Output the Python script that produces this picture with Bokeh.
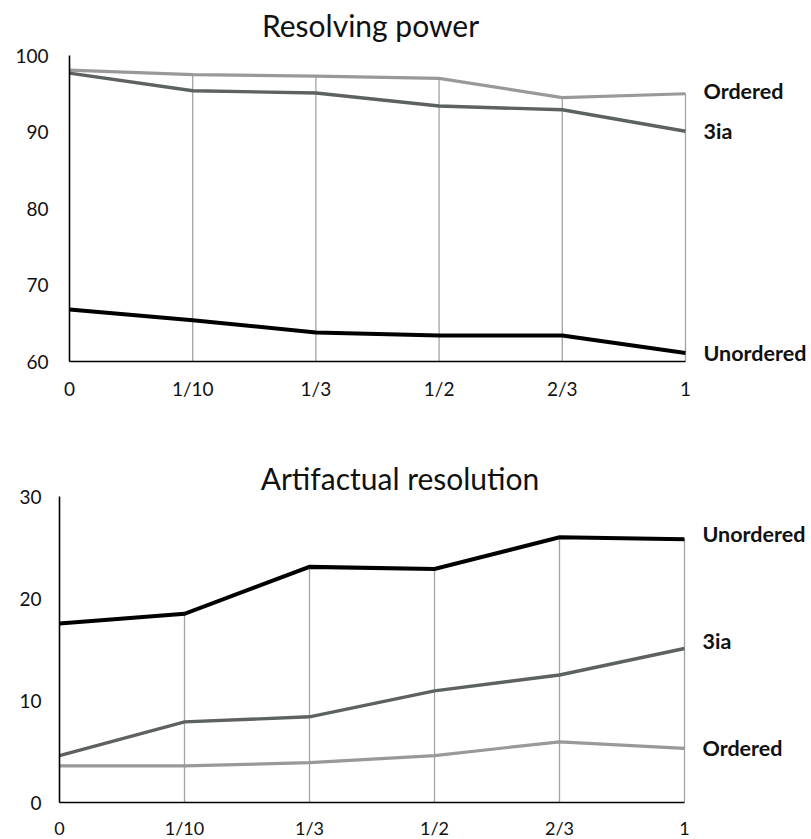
from bokeh.plotting import figure
from bokeh.models import Range1d, FixedTicker
from bokeh.core.properties import value
from bokeh.embed import file_html
from bokeh.resources import INLINE

# ---- data ----
x_labels = ["0", "1/10", "1/3", "1/2", "2/3", "1"]
series_names = ["Ordered", "3ia", "Unordered"]

rp_ordered = [98.1, 97.5, 97.3, 97.0, 94.5, 95.0]
rp_3ia = [97.7, 95.4, 95.1, 93.4, 92.9, 90.1]
rp_unordered = [66.8, 65.4, 63.8, 63.4, 63.4, 61.1]
rp_ticks = [60, 70, 80, 90, 100]

ar_ordered = [3.6, 3.6, 3.9, 4.6, 5.95, 5.3]
ar_3ia = [4.6, 7.9, 8.4, 10.95, 12.5, 15.1]
ar_unordered = [17.55, 18.5, 23.1, 22.9, 26.0, 25.8]
ar_ticks = [0, 10, 20, 30]

COLORS = {"Ordered": "#999999", "3ia": "#5d6162", "Unordered": "#000000"}
WIDTHS = {"Ordered": 3.2, "3ia": 3.4, "Unordered": 4.0}
FONT = "Lato"
TOTAL_W = 811


def make_chart(title, series, ticks, left, data_w, head, data_h, bottom,
               title_dx, title_dy, label_offsets, x_standoff, y_standoff,
               xlab_size):
    fw = TOTAL_W - left
    fh = head + data_h
    n = len(x_labels) - 1
    x_end = n * fw / data_w
    y_end = ticks[0] + (ticks[-1] - ticks[0]) * fh / data_h
    p = figure(title=None, output_backend="svg", toolbar_location=None,
               frame_width=fw, frame_height=fh,
               min_border_left=left, min_border_right=0,
               min_border_top=0, min_border_bottom=bottom,
               x_range=Range1d(0, x_end),
               y_range=Range1d(ticks[0], y_end))
    p.outline_line_color = None
    p.xgrid.visible = False
    p.ygrid.visible = False
    p.background_fill_color = "white"
    p.border_fill_color = "white"

    xs = list(range(len(x_labels)))
    drop_x = xs[1:]
    drop_top = [max(vals[i] for vals in series.values()) for i in drop_x]
    p.segment(x0=drop_x, y0=[ticks[0]] * len(drop_x), x1=drop_x, y1=drop_top,
              line_color="#a3a3a3", line_width=1.3)

    for name in ["Ordered", "3ia", "Unordered"]:
        vals = series[name]
        p.line(xs, vals, line_color=COLORS[name], line_width=WIDTHS[name],
               line_join="miter")
        p.text(x=[xs[-1]], y=[vals[-1]], text=[name], x_offset=18,
               y_offset=label_offsets.get(name, 0),
               text_font=value(FONT), text_font_style="bold",
               text_font_size="21.5px", text_color="#111111",
               text_baseline="middle", text_align="left")

    # chart title, placed above the top of the value axis
    p.text(x=[n / 2], y=[ticks[-1]], text=[title], x_offset=title_dx,
           y_offset=title_dy, text_font=value(FONT), text_font_style="normal",
           text_font_size="30px", text_color="#111111",
           text_baseline="middle", text_align="center")

    p.xaxis.ticker = FixedTicker(ticks=xs)
    p.xaxis.bounds = (0, n)
    p.xaxis.major_label_overrides = {i: lab for i, lab in enumerate(x_labels)}
    p.yaxis.ticker = FixedTicker(ticks=ticks)
    p.yaxis.bounds = (ticks[0], ticks[-1])
    for ax in (p.xaxis, p.yaxis):
        ax.major_tick_line_color = None
        ax.minor_tick_line_color = None
        ax.axis_line_color = "#000000"
        ax.axis_line_width = 1.6
        ax.major_label_text_font = FONT
        ax.major_label_text_font_size = "19px"
        ax.major_label_text_color = "#111111"
    p.xaxis.major_label_text_font_size = xlab_size
    p.xaxis.major_label_standoff = x_standoff
    p.yaxis.major_label_standoff = y_standoff
    return p


p1 = make_chart("Resolving power",
                {"Ordered": rp_ordered, "3ia": rp_3ia, "Unordered": rp_unordered},
                rp_ticks, left=69, data_w=616, head=55, data_h=306, bottom=69,
                title_dx=-7, title_dy=-31, label_offsets={"Ordered": -3},
                x_standoff=9, y_standoff=15, xlab_size="19px")
p2 = make_chart("Artifactual resolution",
                {"Ordered": ar_ordered, "3ia": ar_3ia, "Unordered": ar_unordered},
                ar_ticks, left=59, data_w=625, head=66, data_h=306, bottom=37,
                title_dx=28, title_dy=-19,
                label_offsets={"Unordered": -5, "3ia": -7},
                x_standoff=8, y_standoff=12, xlab_size="18px")

open("out.html", "w").write(file_html([p1, p2], INLINE))
